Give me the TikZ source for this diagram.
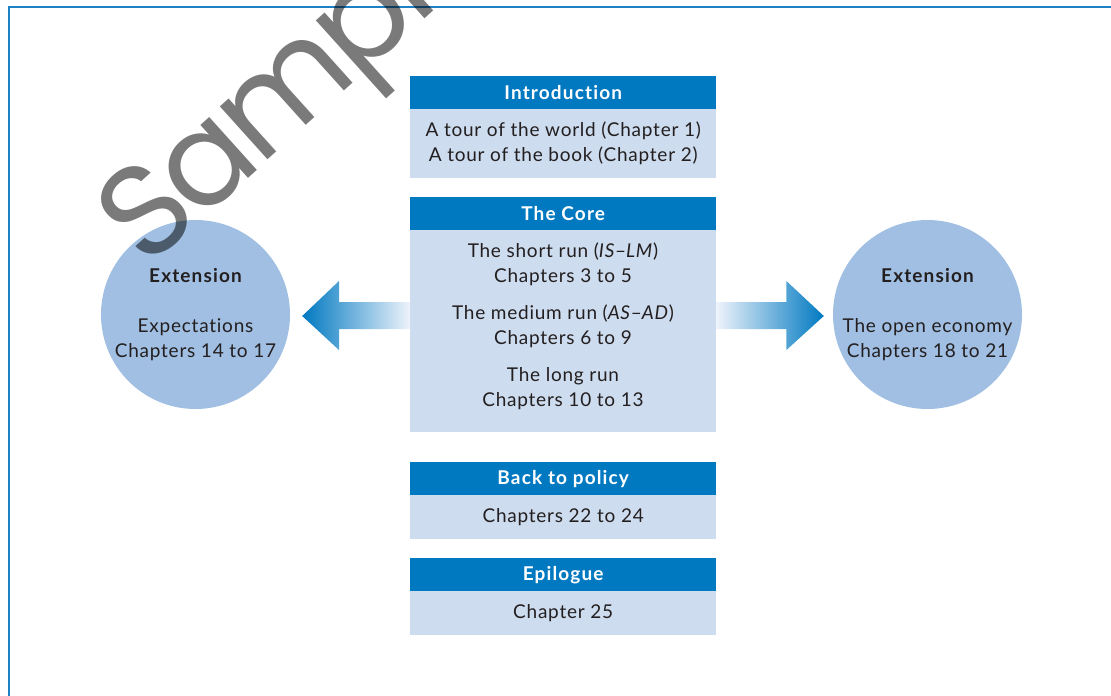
\documentclass[tikz,border=0pt]{standalone}
\usepackage{fontspec}
\setmainfont{Lato}[LetterSpace=4, Ligatures=NoCommon, BoldFeatures={LetterSpace=6}]
\newfontfamily\wmfont{Poppins}[LetterSpace=-4]
\usetikzlibrary{calc}
\definecolor{hdrblue}{RGB}{0,121,193}
\definecolor{bodyblue}{RGB}{205,220,238}
\definecolor{circblue}{RGB}{160,191,226}
\definecolor{ink}{RGB}{35,31,32}
\definecolor{rulecol}{RGB}{30,128,196}
\definecolor{arrowlight}{RGB}{238,243,251}
\newcommand\chartsize{\fontsize{19}{25}\selectfont}
\tikzset{
  hdr/.style={fill=hdrblue, text=white, font=\chartsize\bfseries, minimum width=306pt,
    minimum height=33pt, inner sep=0pt, anchor=north west},
  bodybox/.style={fill=bodyblue, minimum width=306pt, inner sep=0pt, anchor=north west},
  txt/.style={text=ink, inner sep=0pt, align=center, font=\chartsize},
  txtbold/.style={txt, font=\chartsize\bfseries},
  ext/.style={circle, fill=circblue, minimum size=189pt, inner sep=0pt},
  blockarrow/.style={draw=none},
  wm/.style={text=black, text opacity=0.52, inner sep=0pt,
    font=\wmfont\fontsize{130}{130}\selectfont}
}
\begin{document}
\begin{tikzpicture}[x=1pt, y=-1pt]
\useasboundingbox (0,0) rectangle (1111,696);
\clip (0,0) rectangle (1111,696);

% page rules
\draw[rulecol, line width=1.6pt] (9,696) -- (9,7) -- (1111,7);

% extension circles
\node[ext] (extL) at (195.5,314.5) {};
\node[ext] (extR) at (927.5,314.5) {};
\node[txtbold] (extLt) at (195.5,276) {Extension};
\node[txt] (extLb) at (195.5,340) {Expectations\\Chapters 14 to 17};
\node[txtbold] (extRt) at (927.5,276) {Extension};
\node[txt] (extRb) at (927.5,340) {The open economy\\Chapters 18 to 21};

% introduction
\node[hdr] (introH) at (410,76) {Introduction};
\node[bodybox, minimum height=69pt] (introB) at (410,109) {};
\node[txt] (introT) at (introB.center) {A tour of the world (Chapter 1)\\A tour of the book (Chapter 2)};

% the core
\node[hdr] (coreH) at (410,197) {The Core};
\node[bodybox, minimum height=202pt] (coreB) at (410,230) {};
\node[txt] (core1) at (563,264.5) {The short run (\textit{IS}--\textit{LM})\\Chapters 3 to 5};
\node[txt] (core2) at (563,326.5) {The medium run (\textit{AS}--\textit{AD})\\Chapters 6 to 9};
\node[txt] (core3) at (563,388.5) {The long run\\Chapters 10 to 13};

% back to policy
\node[hdr] (polH) at (410,462) {Back to policy};
\node[bodybox, minimum height=44pt] (polB) at (410,495) {};
\node[txt] (polT) at (polB.center) {Chapters 22 to 24};

% epilogue
\node[hdr] (epiH) at (410,558) {Epilogue};
\node[bodybox, minimum height=44pt] (epiB) at (410,591) {};
\node[txt] (epiT) at (epiB.center) {Chapter 25};

% block arrows from the core to the extensions
\coordinate (aL) at ($(coreB.west |- 0,316)$);
\coordinate (aR) at ($(coreB.east |- 0,316)$);
\shade[blockarrow, left color=hdrblue, right color=arrowlight]
  ($(aL)+(0,-14)$) -- ($(aL)+(-71,-14)$) -- ($(aL)+(-71,-35)$) --
  ($(extL.east)+(12,1.5)$) -- ($(aL)+(-71,34)$) -- ($(aL)+(-71,13)$) --
  ($(aL)+(0,13)$) -- cycle;
\shade[blockarrow, right color=hdrblue, left color=arrowlight]
  ($(aR)+(0,-14)$) -- ($(aR)+(70,-14)$) -- ($(aR)+(70,-35)$) --
  ($(extR.west)+(-9,1.5)$) -- ($(aR)+(70,34)$) -- ($(aR)+(70,13)$) --
  ($(aR)+(0,13)$) -- cycle;

% watermark
\node[wm, rotate=42, anchor=base west] (wmark) at (146,270) {Sample};
\end{tikzpicture}
\end{document}
